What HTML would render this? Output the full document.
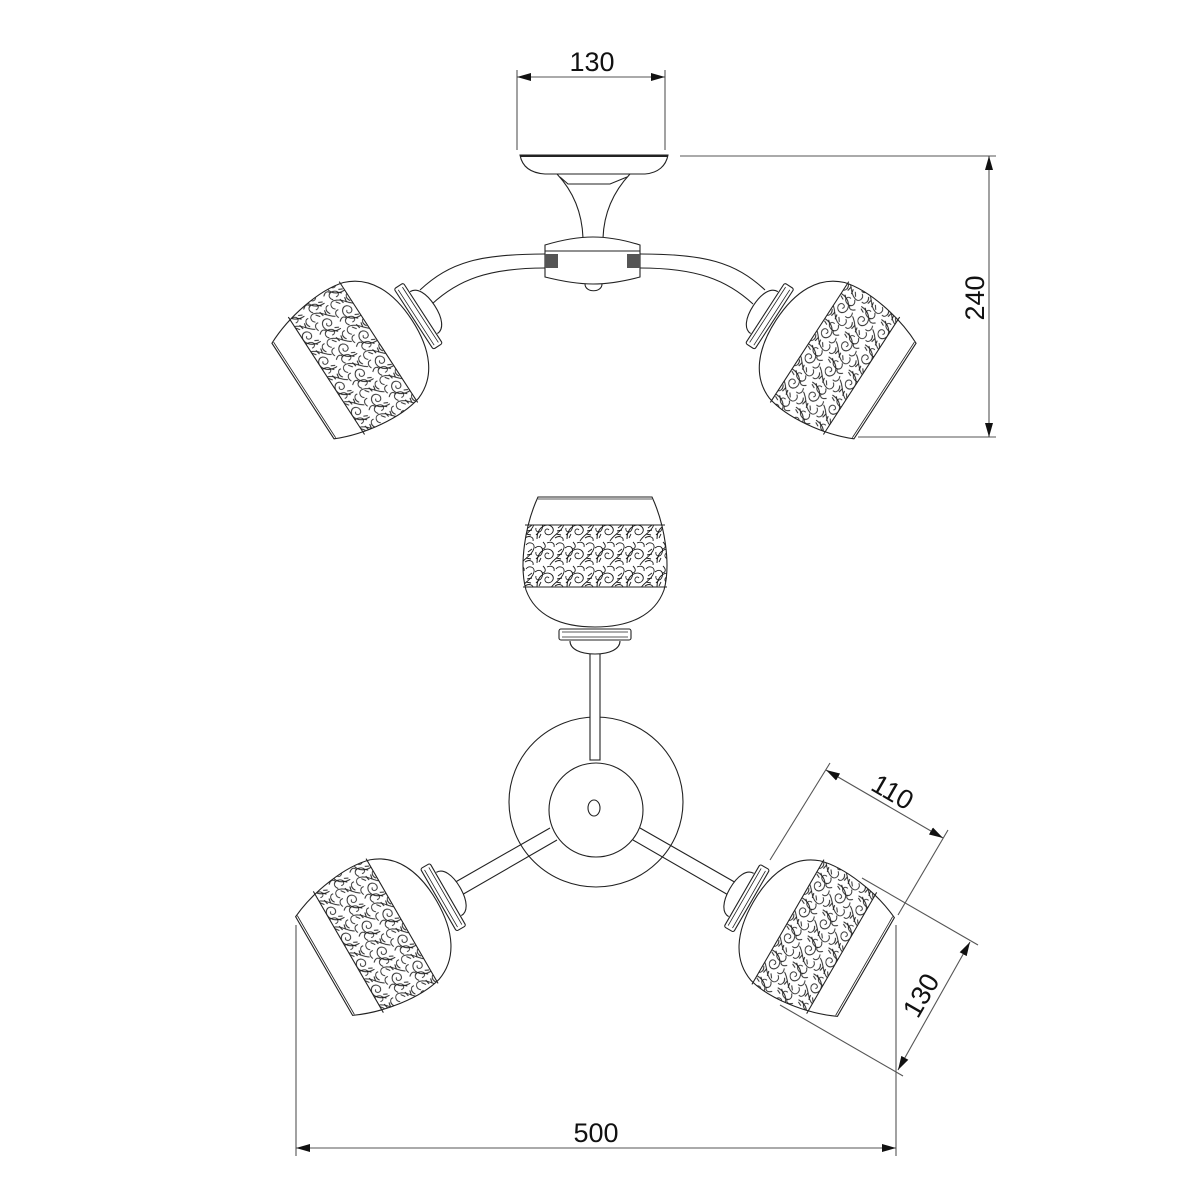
<!DOCTYPE html>
<html><head><meta charset="utf-8"><style>
html,body{margin:0;padding:0;background:#fff;}
svg{display:block;}
text{font-family:"Liberation Sans Narrow","Liberation Sans",sans-serif;fill:#111;}
</style></head><body>
<svg width="1200" height="1200" viewBox="0 0 1200 1200" xmlns="http://www.w3.org/2000/svg">
<defs>
  <marker id="ar" viewBox="0 0 14 8" refX="14" refY="4" markerWidth="14" markerHeight="8" markerUnits="userSpaceOnUse" orient="auto-start-reverse">
    <path d="M0,0 L14,4 L0,8 Z" fill="#111"/>
  </marker>
  <pattern id="swirl" width="30" height="24" patternUnits="userSpaceOnUse">
    <g fill="none" stroke="#1a1a1a" stroke-width="0.9">
      <path d="M2,22 C2,10 12,5 17,10 C21,14 15,20 11,17 C8,14 12,10 14,13"/>
      <path d="M15,24 C19,17 27,15 29,7 C30,2 24,0 21,4"/>
      <path d="M0,7 C5,3 9,7 7,12 C5,17 0,15 1,11"/>
      <path d="M20,21 C24,18 29,20 28,24"/>
      <path d="M8,1 C12,5 10,8 7,8"/>
      <path d="M23,11 l4,-3 M22,14 l5,-1 M21,17 l5,1 M4,15 l-3,3 M6,17 l-2,4"/>
      <path d="M12,2 C16,0 20,2 19,6"/>
    </g>
  </pattern>
  <clipPath id="bandclip">
    <path d="M-57,-68 L57,-68 C70,-40 76,0 69,25 C60,50 35,62 0,62 C-35,62 -60,50 -69,25 C-76,0 -70,-40 -57,-68 Z"/>
  </clipPath>
  <g id="shade" fill="none" stroke="#222" stroke-width="1.1">
    <path d="M-25,76 C-25,84 -15,89 0,89 C15,89 25,84 25,76" fill="#fff"/>
    <rect x="-36" y="64" width="72" height="11" rx="2" fill="#fff"/>
    <line x1="-33" y1="67" x2="33" y2="67" stroke-width="0.8"/>
    <line x1="-33" y1="72" x2="33" y2="72" stroke-width="0.8"/>
    <path d="M-57,-68 L57,-68 C70,-40 76,0 69,25 C60,50 35,62 0,62 C-35,62 -60,50 -69,25 C-76,0 -70,-40 -57,-68 Z" fill="#fff"/>
    <line x1="-57" y1="-66" x2="57" y2="-66" stroke-width="0.8"/>
    <g clip-path="url(#bandclip)">
      <rect x="-80" y="-40" width="160" height="62" fill="url(#swirl)" stroke="none"/>
    </g>
    <line x1="-70" y1="-40" x2="70" y2="-40"/>
    <line x1="-72" y1="22" x2="72" y2="22"/>
  </g>
</defs>

<!-- ===== TOP (side) VIEW ===== -->
<g fill="none" stroke="#222" stroke-width="1.1">
  <path d="M520,155 L668,155 C666,166 658,173 645,174 L545,174 C530,173 522,166 520,155 Z" fill="#fff"/>
  <line x1="520" y1="156" x2="668" y2="156" stroke-width="2"/>
  <path d="M557,174 L630,174 C615,190 604,210 603,238 L583,238 C582,210 572,190 557,174 Z" fill="#fff"/>
  <path d="M560,177 L568,184 L610,184 L627,177"/>
  <path d="M545,254 C480,254 450,262 420,290"/>
  <path d="M545,268 C488,268 458,280 432,304"/>
  <path d="M640,254 C705,254 735,262 765,290"/>
  <path d="M640,268 C697,268 727,280 753,304"/>
  <path d="M545,245 C565,239 580,237 593,237 C606,237 621,239 640,245 L640,277 C621,282 606,284 593,284 C580,284 565,282 545,277 Z" fill="#fff"/>
  <line x1="545" y1="251" x2="640" y2="251"/>
  <rect x="545" y="254" width="13" height="14" fill="#555" stroke="none"/>
  <rect x="627" y="254" width="13" height="14" fill="#555" stroke="none"/>
  <path d="M585,284 C585,293 602,293 602,284"/>
</g>
<use href="#shade" transform="translate(360,354) rotate(-123)"/>
<use href="#shade" transform="translate(828,354) rotate(123)"/>

<!-- ===== BOTTOM VIEW ===== -->
<g fill="none" stroke="#222" stroke-width="1.1">
  <ellipse cx="596" cy="802" rx="87" ry="85" fill="#fff"/>
  <rect x="590" y="650" width="10" height="110" fill="#fff"/>
  <path d="M550,828 L452,884 M557,840 L460,896"/>
  <path d="M640,828 L738,884 M633,840 L730,896"/>
  <circle cx="596" cy="810" r="47" fill="#fff"/>
  <ellipse cx="594" cy="808" rx="6" ry="8"/>
</g>
<use href="#shade" transform="translate(595,565)"/>
<use href="#shade" transform="translate(383,932) rotate(-120)"/>
<use href="#shade" transform="translate(807,933) rotate(120)"/>

<!-- ===== DIMENSIONS ===== -->
<g fill="none" stroke="#555" stroke-width="1.1">
  <line x1="517" y1="70" x2="517" y2="150"/>
  <line x1="665" y1="70" x2="665" y2="150"/>
  <line x1="517" y1="77" x2="665" y2="77" marker-start="url(#ar)" marker-end="url(#ar)"/>
  <line x1="680" y1="156" x2="996" y2="156"/>
  <line x1="858" y1="437" x2="996" y2="437"/>
  <line x1="989" y1="156" x2="989" y2="437" marker-start="url(#ar)" marker-end="url(#ar)"/>
  <line x1="296" y1="925" x2="296" y2="1156"/>
  <line x1="896" y1="925" x2="896" y2="1156"/>
  <line x1="296" y1="1148" x2="896" y2="1148" marker-start="url(#ar)" marker-end="url(#ar)"/>
  <line x1="770" y1="860" x2="830" y2="763"/>
  <line x1="898" y1="915" x2="948" y2="830"/>
  <line x1="826" y1="770" x2="943" y2="838" marker-start="url(#ar)" marker-end="url(#ar)"/>
  <line x1="862" y1="878" x2="978" y2="945"/>
  <line x1="780" y1="1005" x2="903" y2="1076"/>
  <line x1="970" y1="942" x2="898" y2="1070" marker-start="url(#ar)" marker-end="url(#ar)"/>
</g>
<g font-size="27">
  <text x="592" y="71" text-anchor="middle">130</text>
  <text x="596" y="1142" text-anchor="middle">500</text>
  <text transform="translate(984,298) rotate(-90)" text-anchor="middle">240</text>
  <text transform="translate(888,800) rotate(30)" text-anchor="middle">110</text>
  <text transform="translate(929,1000) rotate(-60)" text-anchor="middle">130</text>
</g>
</svg>
</body></html>
